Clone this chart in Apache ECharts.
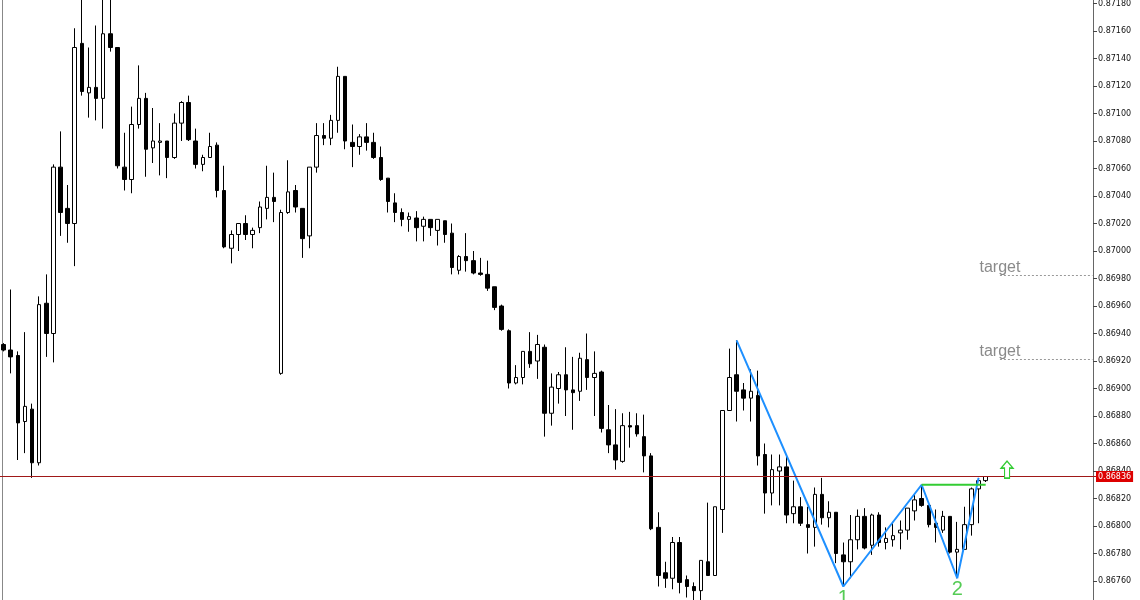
<!DOCTYPE html>
<html>
<head>
<meta charset="utf-8">
<title>Candles</title>
<script src="https://cdn.jsdelivr.net/npm/echarts@6/dist/echarts.min.js"></script>
<style>
  html, body { margin: 0; padding: 0; background: #fff; }
  #chart { width: 1140px; height: 600px; }
</style>
</head>
<body>
<div id="chart"></div>
<script>
// bar data, oldest first
const opens = [
  0.86932, 0.86928, 0.86924, 0.86876, 0.86885, 0.86846, 0.86962, 0.86940, 0.87061, 0.87031,
  0.87020, 0.87151, 0.87115, 0.87119, 0.87111, 0.87158, 0.87148, 0.87061, 0.87052, 0.87092,
  0.87111, 0.87075, 0.87079, 0.87080, 0.87068, 0.87093, 0.87108, 0.87080, 0.87063, 0.87068,
  0.87077, 0.87044, 0.87002, 0.87012, 0.87020, 0.87012, 0.87017, 0.87031, 0.87039, 0.86911,
  0.87028, 0.87044, 0.87031, 0.87011, 0.87061, 0.87084, 0.87082, 0.87095, 0.87127, 0.87079,
  0.87076, 0.87083, 0.87079, 0.87068, 0.87053, 0.87035, 0.87028, 0.87023, 0.87024, 0.87018,
  0.87023, 0.87015, 0.87022, 0.87013, 0.86986, 0.86996, 0.86993, 0.86984, 0.86983, 0.86974,
  0.86960, 0.86942, 0.86904, 0.86908, 0.86927, 0.86920, 0.86930, 0.86882, 0.86900, 0.86910,
  0.86899, 0.86898, 0.86921, 0.86908, 0.86912, 0.86870, 0.86859, 0.86847, 0.86873, 0.86873,
  0.86865, 0.86851, 0.86799, 0.86766, 0.86762, 0.86788, 0.86761, 0.86756, 0.86753, 0.86774,
  0.86764, 0.86812, 0.86884, 0.86910, 0.86899, 0.86893, 0.86895, 0.86852, 0.86824, 0.86840,
  0.86843, 0.86809, 0.86814, 0.86801, 0.86799, 0.86823, 0.86806, 0.86810, 0.86779, 0.86774,
  0.86790, 0.86807, 0.86786, 0.86808, 0.86788, 0.86790, 0.86795, 0.86797, 0.86811, 0.86820,
  0.86815, 0.86802, 0.86797, 0.86807, 0.86781, 0.86783, 0.86801, 0.86827, 0.86833
]
const closes = [
  0.86928, 0.86923, 0.86875, 0.86887, 0.86846, 0.86961, 0.86940, 0.87061, 0.87028, 0.87020,
  0.87148, 0.87116, 0.87119, 0.87111, 0.87158, 0.87148, 0.87062, 0.87052, 0.87092, 0.87111,
  0.87074, 0.87080, 0.87080, 0.87068, 0.87093, 0.87108, 0.87081, 0.87063, 0.87068, 0.87076,
  0.87044, 0.87003, 0.87012, 0.87020, 0.87012, 0.87015, 0.87032, 0.87039, 0.87036, 0.87028,
  0.87043, 0.87032, 0.87009, 0.87061, 0.87084, 0.87082, 0.87095, 0.87127, 0.87080, 0.87076,
  0.87083, 0.87079, 0.87068, 0.87052, 0.87036, 0.87028, 0.87023, 0.87025, 0.87017, 0.87023,
  0.87017, 0.87023, 0.87012, 0.86988, 0.86996, 0.86993, 0.86984, 0.86983, 0.86973, 0.86959,
  0.86943, 0.86904, 0.86908, 0.86927, 0.86918, 0.86932, 0.86882, 0.86901, 0.86910, 0.86899,
  0.86897, 0.86922, 0.86908, 0.86911, 0.86871, 0.86859, 0.86848, 0.86873, 0.86872, 0.86867,
  0.86851, 0.86798, 0.86764, 0.86762, 0.86788, 0.86759, 0.86756, 0.86753, 0.86775, 0.86764,
  0.86814, 0.86884, 0.86908, 0.86898, 0.86893, 0.86898, 0.86851, 0.86824, 0.86841, 0.86843,
  0.86808, 0.86814, 0.86802, 0.86799, 0.86823, 0.86806, 0.86810, 0.86780, 0.86774, 0.86790,
  0.86807, 0.86784, 0.86808, 0.86788, 0.86791, 0.86793, 0.86797, 0.86813, 0.86819, 0.86815,
  0.86801, 0.86799, 0.86807, 0.86781, 0.86783, 0.86801, 0.86827, 0.86833, 0.86836
]
const lows = [
  0.86927, 0.86911, 0.86848, 0.86853, 0.86835, 0.86844, 0.86923, 0.86919, 0.87011, 0.87006,
  0.86989, 0.87113, 0.87097, 0.87095, 0.87089, 0.87145, 0.87060, 0.87044, 0.87042, 0.87089,
  0.87054, 0.87064, 0.87055, 0.87053, 0.87067, 0.87080, 0.87080, 0.87060, 0.87058, 0.87068,
  0.87039, 0.87002, 0.86991, 0.87000, 0.87008, 0.87002, 0.87013, 0.87023, 0.87021, 0.86910,
  0.87027, 0.87028, 0.86995, 0.87002, 0.87057, 0.87077, 0.87077, 0.87086, 0.87074, 0.87061,
  0.87070, 0.87073, 0.87067, 0.87051, 0.87028, 0.87021, 0.87018, 0.87014, 0.87007, 0.87007,
  0.87011, 0.87004, 0.87006, 0.86983, 0.86983, 0.86985, 0.86983, 0.86982, 0.86971, 0.86957,
  0.86942, 0.86900, 0.86903, 0.86903, 0.86915, 0.86907, 0.86865, 0.86873, 0.86889, 0.86880,
  0.86870, 0.86891, 0.86899, 0.86880, 0.86868, 0.86853, 0.86841, 0.86846, 0.86857, 0.86865,
  0.86839, 0.86797, 0.86756, 0.86755, 0.86754, 0.86751, 0.86748, 0.86746, 0.86746, 0.86764,
  0.86764, 0.86795, 0.86884, 0.86876, 0.86884, 0.86876, 0.86844, 0.86809, 0.86815, 0.86815,
  0.86802, 0.86802, 0.86800, 0.86780, 0.86785, 0.86801, 0.86799, 0.86773, 0.86756, 0.86762,
  0.86783, 0.86783, 0.86779, 0.86785, 0.86783, 0.86785, 0.86783, 0.86790, 0.86804, 0.86814,
  0.86799, 0.86788, 0.86795, 0.86780, 0.86762, 0.86783, 0.86793, 0.86802, 0.86832
]
const highs = [
  0.86933, 0.86972, 0.86927, 0.86941, 0.86889, 0.86967, 0.86983, 0.87063, 0.87087, 0.87048,
  0.87162, 0.87190, 0.87148, 0.87164, 0.87188, 0.87186, 0.87148, 0.87086, 0.87105, 0.87135,
  0.87115, 0.87104, 0.87093, 0.87080, 0.87100, 0.87109, 0.87113, 0.87089, 0.87070, 0.87086,
  0.87079, 0.87062, 0.87015, 0.87020, 0.87026, 0.87017, 0.87036, 0.87062, 0.87057, 0.87030,
  0.87066, 0.87048, 0.87031, 0.87061, 0.87093, 0.87093, 0.87099, 0.87134, 0.87127, 0.87092,
  0.87085, 0.87093, 0.87086, 0.87076, 0.87053, 0.87042, 0.87031, 0.87028, 0.87029, 0.87025,
  0.87023, 0.87023, 0.87022, 0.87020, 0.86997, 0.87013, 0.87000, 0.86995, 0.86993, 0.86974,
  0.86961, 0.86943, 0.86917, 0.86927, 0.86941, 0.86939, 0.86932, 0.86911, 0.86912, 0.86930,
  0.86923, 0.86926, 0.86940, 0.86927, 0.86913, 0.86888, 0.86885, 0.86882, 0.86883, 0.86882,
  0.86881, 0.86853, 0.86810, 0.86774, 0.86792, 0.86792, 0.86764, 0.86759, 0.86775, 0.86817,
  0.86814, 0.86884, 0.86929, 0.86935, 0.86904, 0.86914, 0.86913, 0.86860, 0.86852, 0.86852,
  0.86852, 0.86833, 0.86821, 0.86814, 0.86828, 0.86835, 0.86818, 0.86810, 0.86788, 0.86808,
  0.86812, 0.86813, 0.86809, 0.86810, 0.86799, 0.86803, 0.86804, 0.86813, 0.86824, 0.86830,
  0.86815, 0.86812, 0.86811, 0.86807, 0.86803, 0.86814, 0.86828, 0.86835, 0.86836
]

// 139 bars plus empty chart shift on the right
const slotCount = 154
const categories = []
for (let i = 0; i < slotCount; i++) categories.push(String(i))

// pattern drawn on top: [bar index, price]
const zigzag = [[103, 0.86935], [118, 0.86756], [129, 0.86830], [134, 0.86762], [137, 0.86835]]
const neckline = [[129, 0.86830], [138, 0.86830]]
const lastPrice = 0.86836
const targets = [0.86982, 0.86921]
const targetLabels = [0.86988, 0.86927]
const pointLabels = [{ name: '1', bar: 118, price: 0.86747 }, { name: '2', bar: 134, price: 0.86754 }]
const arrowAt = [141, 0.86841]

const ohlc = opens.map((o, i) => [o, closes[i], lows[i], highs[i]])

const chart = echarts.init(document.getElementById('chart'))

const targetLines = targets.map(t => [
  { coord: [140, t] },
  { coord: [153, t] }
])

chart.setOption({
  animation: false,
  backgroundColor: '#fff',
  grid: {
    left: 0,
    top: -24,
    width: 1096,
    height: 632.5,
    containLabel: false,
    outerBoundsMode: 'none'
  },
  xAxis: {
    type: 'category',
    data: categories,
    axisLine: { show: false },
    axisTick: { show: false },
    axisLabel: { show: false },
    splitLine: { show: false }
  },
  yAxis: {
    type: 'value',
    position: 'right',
    offset: -3,
    min: 0.8674,
    max: 0.8720,
    interval: 0.0002,
    axisLine: { show: true, lineStyle: { color: '#666', width: 1 } },
    axisTick: { show: true, length: 4, lineStyle: { color: '#444' } },
    axisLabel: {
      color: '#111',
      fontSize: 8,
      fontFamily: 'DejaVu Sans',
      margin: 5,
      formatter: v => v.toFixed(5)
    },
    splitLine: { show: false }
  },
  graphic: [{
    type: 'line',
    shape: { x1: 2.5, y1: 0, x2: 2.5, y2: 600 },
    style: { stroke: '#888', lineWidth: 1 }
  }],
  series: [{
    type: 'candlestick',
    data: ohlc,
    barWidth: 4,
    itemStyle: {
      color: '#fff',
      color0: '#000',
      borderColor: '#000',
      borderColor0: '#000',
      borderWidth: 1
    },
    markLine: {
      silent: true,
      precision: 5,
      symbol: ['none', 'none'],
      data: [
        {
          yAxis: lastPrice,
          lineStyle: { color: '#a01818', type: 'solid', width: 1 },
          label: {
            show: true,
            position: 'end',
            distance: 0,
            formatter: lastPrice.toFixed(5),
            backgroundColor: '#dd0000',
            color: '#fff',
            fontSize: 8,
            fontFamily: 'DejaVu Sans',
            padding: [2, 2, 1, 2]
          }
        },
        ...targetLines.map(seg => [
          Object.assign({}, seg[0], {
            lineStyle: { color: '#999', type: [2, 2], width: 1 },
            label: { show: false }
          }),
          seg[1]
        ])
      ]
    },
    markPoint: {
      silent: true,
      data: [
        ...targetLabels.map(p => ({
          coord: [140, p],
          symbol: 'circle',
          symbolSize: 1,
          itemStyle: { color: 'transparent' },
          label: {
            show: true,
            position: 'inside',
            formatter: 'target',
            color: '#8a8a8a',
            fontSize: 16,
            fontFamily: 'Liberation Sans'
          }
        })),
        ...pointLabels.map(p => ({
          coord: [p.bar, p.price],
          symbol: 'circle',
          symbolSize: 1,
          itemStyle: { color: 'transparent' },
          label: {
            show: true,
            position: 'inside',
            formatter: p.name,
            color: '#55cc55',
            fontSize: 20,
            fontFamily: 'Liberation Sans'
          }
        })),
        {
          coord: arrowAt,
          symbol: 'path://M6,0 L12,7 L8.5,7 L8.5,17 L3.5,17 L3.5,7 L0,7 Z',
          symbolSize: [12, 17],
          itemStyle: { color: '#fff', borderColor: '#33cc33', borderWidth: 1.3 },
          label: { show: false }
        }
      ]
    }
  }, {
    type: 'line',
    data: zigzag,
    symbol: 'none',
    lineStyle: { color: '#1e90ff', width: 2 },
    z: 3
  }, {
    type: 'line',
    data: neckline,
    symbol: 'none',
    lineStyle: { color: '#33cc33', width: 2 },
    z: 4
  }]
})
</script>
</body>
</html>
